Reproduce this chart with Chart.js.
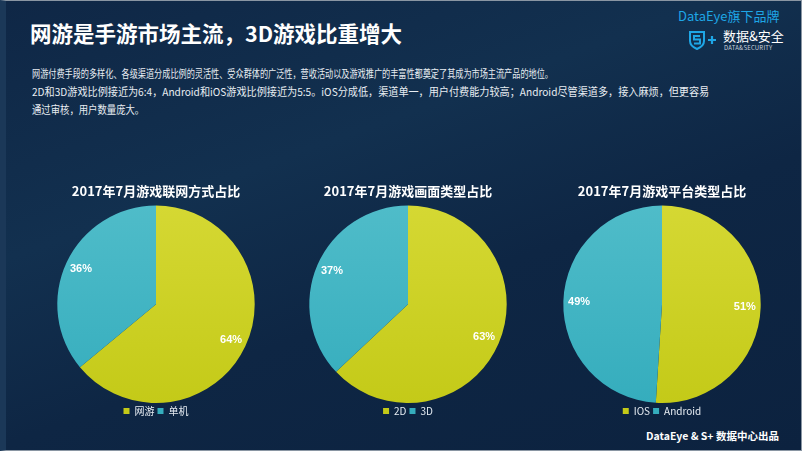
<!DOCTYPE html>
<html>
<head>
<meta charset="utf-8">
<script src="https://cdn.jsdelivr.net/npm/chart.js@4/dist/chart.umd.min.js"></script>
<style>
  html, body { margin: 0; padding: 0; }
  body { width: 802px; height: 451px; overflow: hidden; font-family: "Noto Sans CJK SC", "Noto Sans", sans-serif; }
  #slide {
    position: relative; width: 802px; height: 451px; box-sizing: border-box;
    background: linear-gradient(160deg, #0f2746 0%, #12304f 35%, #0e2644 60%, #0c223f 100%);
    border: 1px solid #8a96a3; border-left: 6px solid #1b3858;
  }
  #title { position: absolute; left: 24px; top: 16px; color: #fff; font-size: 21.5px; font-weight: 700; }
  .para { position: absolute; left: 26px; color: #e8edf2; font-size: 11px; white-space: nowrap; transform-origin: left center; }
  #brand { position: absolute; left: 672px; top: 5px; color: #1ea6e6; font-size: 13px; }
  #brand2 { position: absolute; left: 717px; top: 25px; color: #fff; font-size: 13px; }
  #brand3 { position: absolute; left: 718px; top: 42px; color: #c9d2dc; font-size: 6px; letter-spacing: 0.2px; }
  #shield { position: absolute; left: 682px; top: 29px; }
  #footer { position: absolute; left: 640px; top: 427px; color: #fff; font-size: 10.5px; font-weight: 700; }
  .pie { position: absolute; top: 174px; }
</style>
</head>
<body>
<div id="slide">
  <div id="title">网游是手游市场主流，3D游戏比重增大</div>
  <div class="para" style="top:64px; transform: scaleX(0.74)">网游付费手段的多样化、各级渠道分成比例的灵活性、受众群体的广泛性，营收活动以及游戏推广的丰富性都奠定了其成为市场主流产品的地位。</div>
  <div class="para" style="top:82px; transform: scaleX(0.92)">2D和3D游戏比例接近为6:4，Android和iOS游戏比例接近为5:5。iOS分成低，渠道单一，用户付费能力较高；Android尽管渠道多，接入麻烦，但更容易</div>
  <div class="para" style="top:100px; transform: scaleX(0.85)">通过审核，用户数量庞大。</div>

  <div id="brand">DataEye旗下品牌</div>
  <svg id="shield" width="32" height="20" viewBox="0 0 32 20">
    <path d="M2 2 L16 2 L16 11 Q16 16 9 19 Q2 16 2 11 Z" fill="none" stroke="#1ea6e6" stroke-width="2"/>
    <path d="M12 6 L6 6 L6 9.5 L12 9.5 L12 13.5 L6 13.5" fill="none" stroke="#1ea6e6" stroke-width="2"/>
    <path d="M20 10 L28 10 M24 6 L24 14" stroke="#1ea6e6" stroke-width="2.2"/>
  </svg>
  <div id="brand2">数据&amp;安全</div>
  <div id="brand3">DATA&amp;SECURITY</div>

  <canvas id="pie1" class="pie" style="left:25px" width="250" height="251"></canvas>
  <canvas id="pie2" class="pie" style="left:277px" width="250" height="251"></canvas>
  <canvas id="pie3" class="pie" style="left:531px" width="250" height="251"></canvas>

  <div id="footer">DataEye &amp; S+ 数据中心出品</div>
</div>

<script>
// 数据
const titles = ['2017年7月游戏联网方式占比', '2017年7月游戏画面类型占比', '2017年7月游戏平台类型占比'];
const labels1 = ['网游', '单机'];
const values1 = [64, 36];
const labels2 = ['2D', '3D'];
const values2 = [63, 37];
const labels3 = ['IOS', 'Android'];
const values3 = [51, 49];

const yellowTop = '#d5d833', yellowBottom = '#c4ca18';
const tealTop = '#4fbcc9', tealBottom = '#35adbd';

// 扇区渐变
const sliceFill = (ctx) => {
    const chart = ctx.chart;
    const area = chart.chartArea;
    if (!area) return ctx.dataIndex === 0 ? yellowBottom : tealBottom;
    const g = chart.ctx.createLinearGradient(0, area.top, 0, area.bottom);
    if (ctx.dataIndex === 0) {
        g.addColorStop(0, yellowTop);
        g.addColorStop(1, yellowBottom);
    } else {
        g.addColorStop(0, tealTop);
        g.addColorStop(1, tealBottom);
    }
    return g;
};

// 百分比标签
const pctLabels = {
    id: 'pctLabels',
    afterDatasetsDraw(chart) {
        const c = chart.ctx;
        const meta = chart.getDatasetMeta(0);
        const data = chart.data.datasets[0].data;
        c.save();
        c.fillStyle = '#ffffff';
        c.font = 'bold 11px "Liberation Sans", Arial, sans-serif';
        c.textAlign = 'center';
        c.textBaseline = 'middle';
        meta.data.forEach((arc, i) => {
            const p = arc.getProps(['x', 'y', 'startAngle', 'endAngle', 'outerRadius'], true);
            const mid = (p.startAngle + p.endAngle) / 2;
            const r = p.outerRadius * 0.84;
            c.fillText(data[i] + '%', p.x + Math.cos(mid) * r, p.y + Math.sin(mid) * r);
        });
        c.restore();
    }
};

const makePie = (id, title, labels, values) => {
    const ctx = document.getElementById(id).getContext('2d');
    return new Chart(ctx, {
        type: 'pie',
        data: {
            labels: labels,
            datasets: [{
                data: values,
                backgroundColor: sliceFill,
                borderWidth: 0
            }]
        },
        options: {
            responsive: false,
            animation: false,
            layout: { padding: 0 },
            plugins: {
                title: {
                    display: true,
                    text: title,
                    color: '#ffffff',
                    font: { family: '"Noto Sans CJK SC"', size: 13, weight: 'bold' },
                    padding: { top: 8, bottom: 7 }
                },
                legend: {
                    position: 'bottom',
                    labels: {
                        color: '#e6ecf2',
                        font: { family: '"Noto Sans CJK SC"', size: 10 },
                        boxWidth: 6,
                        boxHeight: 6,
                        padding: 3
                    }
                },
                tooltip: { enabled: false }
            }
        },
        plugins: [pctLabels]
    });
};

makePie('pie1', titles[0], labels1, values1);
makePie('pie2', titles[1], labels2, values2);
makePie('pie3', titles[2], labels3, values3);
</script>
</body>
</html>
